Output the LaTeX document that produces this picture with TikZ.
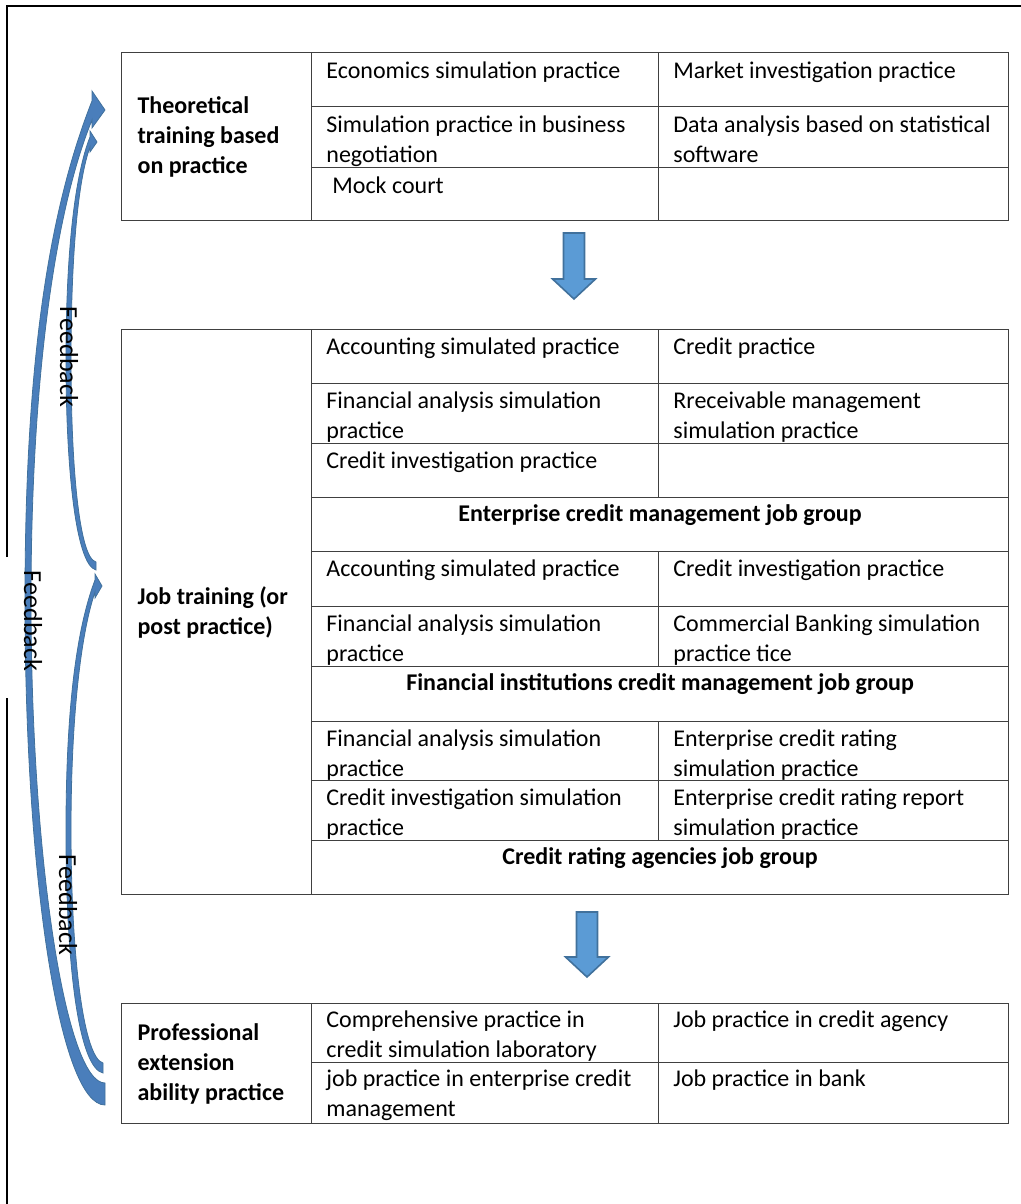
\documentclass[tikz,border=0pt]{standalone}
\usepackage{fontspec}
\setmainfont{Carlito}

\definecolor{arrowblue}{RGB}{91,155,213}
\definecolor{arrowline}{RGB}{65,113,156}
\definecolor{backblue}{RGB}{74,126,187}

\begin{document}
\begin{tikzpicture} [
        x=0.5pt, y=-0.5pt,
        cellbox/.style 2 args={
            rectangle,
            draw=black!75,
            line width=0.6pt,
            anchor=north west,
            minimum width=#1*0.5pt,
            minimum height=#2*0.5pt,
            inner sep=0pt},
        headcell/.style 2 args={
            cellbox={#1}{#2},
            text width=79pt,
            align=flush left,
            font=\fontsize{12}{15}\selectfont\bfseries},
        txt/.style={
            anchor=north west,
            inner sep=0pt,
            align=left,
            font=\fontsize{12}{15}\selectfont},
        grp/.style={
            anchor=north,
            inner sep=0pt,
            font=\fontsize{12}{15}\selectfont\bfseries},
        blockarrow/.style={
            fill=arrowblue,
            draw=arrowline,
            line width=0.8pt},
        feedback/.style={
            fill=backblue,
            draw=arrowline,
            line width=0.4pt},
        fbtext/.style={
            rotate=-90,
            inner sep=0pt,
            font=\fontsize{13}{15}\selectfont}]

    \useasboundingbox (0,0) rectangle (1021,1204);

    % frame (open where the middle label sits)
    \draw[line width=0.8pt] (7,557) -- (7,6) -- (1021,6);
    \draw[line width=0.8pt] (7,698) -- (7,1204);

    % first table
    \node[headcell={190}{168}] (theory) at (121,52) {Theoretical\\training based\\on practice};
    \foreach \i/\ya/\hgt/\txa/\txb in {
        1/52/54/{Economics simulation practice}/{Market investigation practice},
        2/106/61/{Simulation practice in business\\negotiation}/{Data analysis based on statistical\\software},
        3/167/53/{\hspace{3pt}Mock court}/{}} {
        \node[cellbox={347}{\hgt}] (ta\i) at (311,\ya) {};
        \node[cellbox={350}{\hgt}] (tb\i) at (658,\ya) {};
        \node[txt] (ta\i-txt) at ([shift={(15,5)}]ta\i.north west) {\strut\txa};
        \node[txt] (tb\i-txt) at ([shift={(15,5)}]tb\i.north west) {\strut\txb};
    }

    % second table
    \node[headcell={190}{565}] (job) at (121,329) {Job training (or\\post practice)};
    \foreach \i/\ya/\hgt/\txa/\txb in {
        1/329/54/{Accounting simulated practice}/{Credit practice},
        2/383/60/{Financial analysis simulation\\practice}/{Rreceivable management\\simulation practice},
        3/443/54/{Credit investigation practice}/{},
        5/551/55/{Accounting simulated practice}/{Credit investigation practice},
        6/606/60/{Financial analysis simulation\\practice}/{Commercial Banking simulation\\practice tice},
        8/721/59/{Financial analysis simulation\\practice}/{Enterprise credit rating\\simulation practice},
        9/780/60/{Credit investigation simulation\\practice}/{Enterprise credit rating report\\simulation practice}} {
        \node[cellbox={347}{\hgt}] (ja\i) at (311,\ya) {};
        \node[cellbox={350}{\hgt}] (jb\i) at (658,\ya) {};
        \node[txt] (ja\i-txt) at ([shift={(15,4)}]ja\i.north west) {\strut\txa};
        \node[txt] (jb\i-txt) at ([shift={(15,4)}]jb\i.north west) {\strut\txb};
    }
    % job groups
    \foreach \i/\ya/\hgt/\txa in {
        4/497/54/{Enterprise credit management job group},
        7/666/55/{Financial institutions credit management job group},
        10/840/54/{Credit rating agencies job group}} {
        \node[cellbox={697}{\hgt}] (jg\i) at (311,\ya) {};
        \node[grp] (jg\i-txt) at ([shift={(0,3)}]jg\i.north) {\strut\txa};
    }

    % third table
    \node[headcell={190}{120}] (prof) at (121,1003) {Professional\\extension\\ability practice};
    \foreach \i/\ya/\hgt/\txa/\txb in {
        1/1003/59/{Comprehensive practice in\\credit simulation laboratory}/{Job practice in credit agency},
        2/1062/61/{job practice in enterprise credit\\management}/{Job practice in bank}} {
        \node[cellbox={347}{\hgt}] (pa\i) at (311,\ya) {};
        \node[cellbox={350}{\hgt}] (pb\i) at (658,\ya) {};
        \node[txt] (pa\i-txt) at ([shift={(15,3)}]pa\i.north west) {\strut\txa};
        \node[txt] (pb\i-txt) at ([shift={(15,3)}]pb\i.north west) {\strut\txb};
    }

    % down arrows between the tables
    \foreach \cx/\ya/\yb/\yc in {574/233/279/299, 587/912/957/977} {
        \draw[blockarrow] (\cx-10.5,\ya) -- (\cx+10.5,\ya) -- (\cx+10.5,\yb) -- (\cx+21.5,\yb)
            -- (\cx,\yc) -- (\cx-21.5,\yb) -- (\cx-10.5,\yb) -- cycle;
    }

    % feedback arrows
    \draw[feedback] (105,1105) .. controls (60,1105) and (25,880) .. (25,600)
        .. controls (25,380) and (45,220) .. (92,101)
        -- (92,91) -- (105,110) -- (92,128) -- (92,120)
        .. controls (55,210) and (31,380) .. (31,600)
        .. controls (31,860) and (66,1083) .. (105,1083) -- cycle;
    \draw[feedback] (96,570) .. controls (76,565) and (66,470) .. (66,360)
        .. controls (66,250) and (75,175) .. (90,137)
        -- (90,131) -- (97,142) -- (90,152) -- (90,147)
        .. controls (78,180) and (71,255) .. (71,360)
        .. controls (71,465) and (79,558) .. (96,562) -- cycle;
    \draw[feedback] (103,1073) .. controls (80,1068) and (66,975) .. (66,830)
        .. controls (66,700) and (78,625) .. (95,580)
        -- (95,574) -- (102,586) -- (95,598) -- (95,592)
        .. controls (82,630) and (71,710) .. (71,830)
        .. controls (71,960) and (84,1058) .. (103,1063) -- cycle;

    \node[fbtext] (fb1) at (69,357) {Feedback};
    \node[fbtext] (fb2) at (33,621) {Feedback};
    \node[fbtext] (fb3) at (68,905) {Feedback};

\end{tikzpicture}
\end{document}
